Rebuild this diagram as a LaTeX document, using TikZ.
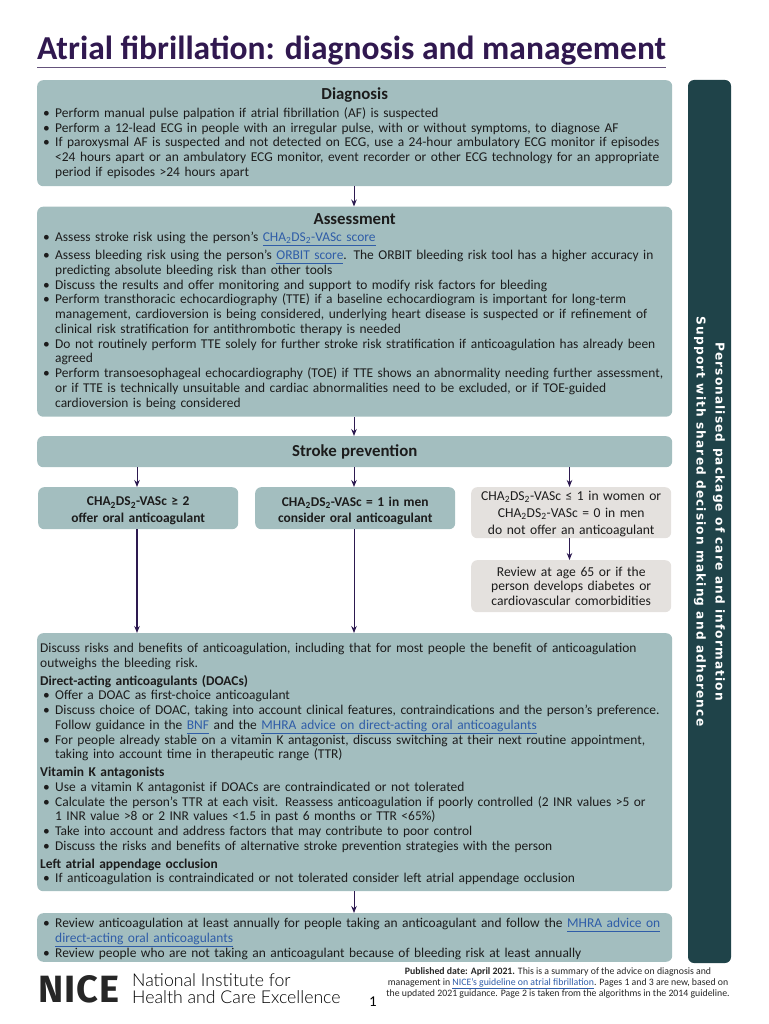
\documentclass[tikz,border=0pt]{standalone}
\usepackage{fontspec}
\setmainfont{Carlito}
\newfontfamily\sidefont[LetterSpace=9]{DejaVu Sans}
\newfontfamily\logofont[LetterSpace=3]{Fira Sans}
\newfontfamily\logolight{Lato Light}
\usetikzlibrary{arrows.meta,positioning}
\normallineskiplimit=-5pt

\definecolor{boxteal}{HTML}{A3BEBF}
\definecolor{boxgrey}{HTML}{E4E1DE}
\definecolor{sidedark}{HTML}{1F4349}
\definecolor{titlepurple}{HTML}{30184F}
\definecolor{arrowpurple}{HTML}{2D1A50}
\definecolor{linkblue}{HTML}{2F5DA8}
\definecolor{inktext}{HTML}{1C1C1C}

\newcommand{\lnk}[1]{\textcolor{linkblue}{\underline{\vphantom{g}#1}}}
\newcommand{\chads}{CHA\textsubscript{2}DS\textsubscript{2}-VASc}
\newcommand{\bitem}[1]{\par\noindent\hangindent=15pt\hangafter=1\makebox[15pt][l]{\hspace{3pt}\textbullet}#1\par}
\newcommand{\boxhead}[1]{{\centering\bfseries\fontsize{16.8}{16.8}\selectfont #1\par}}
\newcommand{\subhead}[1]{\par\vspace{3pt}\noindent\textbf{#1}\par}

\begin{document}
\begin{tikzpicture}[x=1pt, y=-1pt, inner sep=0pt,
                    bodytext/.style={font=\fontsize{13.45}{14.75}\selectfont, text=inktext},
                    tealbox/.style={bodytext, fill=boxteal, rounded corners=6pt, anchor=north west,
                                    text width=629pt, inner xsep=3pt, align=left},
                    smallbox/.style={bodytext, rounded corners=6pt, anchor=north west, minimum width=200pt,
                                     text width=196pt, inner xsep=2pt, align=center},
                    arrow/.style={draw=arrowpurple, line width=1pt, -{Stealth[length=7pt, width=5.5pt]}}]
    \useasboundingbox (0,0) rectangle (768,1024);

    \node[anchor=base west, font=\fontsize{33.5}{33.5}\selectfont\bfseries, text=titlepurple] (title) at (37,60)
        {Atrial fibrillation: diagnosis and management};
    \draw[draw=titlepurple!75, line width=1pt] (37,67.5) -- (title.east |- 0,67.5);

    \node[tealbox, minimum height=106pt] (diag) at (37,80) {%
        \boxhead{Diagnosis}
        \vspace{3pt}
        \bitem{Perform manual pulse palpation if atrial fibrillation (AF) is suspected}
        \bitem{Perform a 12-lead ECG in people with an irregular pulse, with or without symptoms, to diagnose AF}
        \bitem{If paroxysmal AF is suspected and not detected on ECG, use a 24-hour ambulatory ECG monitor if episodes\newline
               <24 hours apart or an ambulatory ECG monitor, event recorder or other ECG technology for an appropriate\newline
               period if episodes >24 hours apart}};

    \node[tealbox, minimum height=210pt] (assess) at (37,206.5) {%
        \boxhead{Assessment}
        \vspace{2pt}
        \bitem{Assess stroke risk using the person's \lnk{\chads{} score}}
        \vspace{3.5pt}
        \bitem{Assess bleeding risk using the person's \lnk{ORBIT score}. The ORBIT bleeding risk tool has a higher accuracy in\newline
               predicting absolute bleeding risk than other tools}
        \bitem{Discuss the results and offer monitoring and support to modify risk factors for bleeding}
        \bitem{Perform transthoracic echocardiography (TTE) if a baseline echocardiogram is important for long-term\newline
               management, cardioversion is being considered, underlying heart disease is suspected or if refinement of\newline
               clinical risk stratification for antithrombotic therapy is needed}
        \bitem{Do not routinely perform TTE solely for further stroke risk stratification if anticoagulation has already been\newline
               agreed}
        \bitem{Perform transoesophageal echocardiography (TOE) if TTE shows an abnormality needing further assessment,\newline
               or if TTE is technically unsuitable and cardiac abnormalities need to be excluded, or if TOE-guided\newline
               cardioversion is being considered}};

    \node[tealbox, minimum height=31pt] (stroke) at (37,436) {\boxhead{Stroke prevention}};

    \node[smallbox, fill=boxteal, minimum height=42pt, font=\fontsize{13.45}{16.2}\selectfont\bfseries] (offer) at (38,487)
        {\chads{} ≥ 2\\offer oral anticoagulant\par\vspace{-5pt}};
    \node[smallbox, fill=boxteal, minimum height=42pt, font=\fontsize{13.45}{16.2}\selectfont\bfseries] (consider) at (255,487)
        {\chads{} = 1 in men\\consider oral anticoagulant\par\vspace{-5pt}};
    \node[smallbox, fill=boxgrey, minimum height=51pt, font=\fontsize{13.6}{16.8}\selectfont] (nooffer) at (471,487)
        {\chads{} ≤ 1 in women or\\\chads{} = 0 in men\\do not offer an anticoagulant\par\vspace{-2pt}};
    \node[smallbox, fill=boxgrey, minimum height=52pt, font=\fontsize{13.6}{14.8}\selectfont] (review) at (471,560)
        {Review at age 65 or if the\\person develops diabetes or\\cardiovascular comorbidities};

    \node[tealbox, minimum height=258pt] (doac) at (37,633) {%
        Discuss risks and benefits of anticoagulation, including that for most people the benefit of anticoagulation\newline
        outweighs the bleeding risk.
        \subhead{Direct-acting anticoagulants (DOACs)}
        \bitem{Offer a DOAC as first-choice anticoagulant}
        \bitem{Discuss choice of DOAC, taking into account clinical features, contraindications and the person's preference.\newline
               Follow guidance in the \lnk{BNF} and the \lnk{MHRA advice on direct-acting oral anticoagulants}}
        \bitem{For people already stable on a vitamin K antagonist, discuss switching at their next routine appointment,\newline
               taking into account time in therapeutic range (TTR)}
        \subhead{Vitamin K antagonists}
        \bitem{Use a vitamin K antagonist if DOACs are contraindicated or not tolerated}
        \bitem{Calculate the person's TTR at each visit. Reassess anticoagulation if poorly controlled (2 INR values >5 or\newline
               1 INR value >8 or 2 INR values <1.5 in past 6 months or TTR <65\%)}
        \bitem{Take into account and address factors that may contribute to poor control}
        \bitem{Discuss the risks and benefits of alternative stroke prevention strategies with the person}
        \subhead{Left atrial appendage occlusion}
        \bitem{If anticoagulation is contraindicated or not tolerated consider left atrial appendage occlusion}
        \vspace{-4pt}};

    \node[tealbox, minimum height=48pt] (followup) at (37,913) {%
        \bitem{Review anticoagulation at least annually for people taking an anticoagulant and follow the \lnk{MHRA advice on}\newline
               \lnk{direct-acting oral anticoagulants}}
        \bitem{Review people who are not taking an anticoagulant because of bleeding risk at least annually}
        \vspace{2pt}};

    \node[fill=sidedark, rounded corners=6pt, rotate=-90, minimum width=883pt, minimum height=43pt,
          align=center, text=white, font=\sidefont\fontsize{12.2}{19}\selectfont\bfseries] (side) at (709.5,521.5)
        {Personalised package of care and information\\Support with shared decision making and adherence};

    \draw[arrow] (diag.south -| 354,0) -- (assess.north -| 354,0);
    \draw[arrow] (assess.south -| 354,0) -- (stroke.north -| 354,0);
    \draw[arrow] (stroke.south -| 137,0) -- (offer.north -| 137,0);
    \draw[arrow] (stroke.south -| 354,0) -- (consider.north -| 354,0);
    \draw[arrow] (stroke.south -| 569.5,0) -- (nooffer.north -| 569.5,0);
    \draw[arrow, line width=1.5pt] (offer.south -| 137,0) -- (doac.north -| 137,0);
    \draw[arrow] (consider.south -| 354,0) -- (doac.north -| 354,0);
    \draw[arrow] (nooffer.south -| 569.5,0) -- (review.north -| 569.5,0);
    \draw[arrow] (doac.south -| 354,0) -- (followup.north -| 354,0);

    \node[anchor=base west, font=\logofont\fontsize{38}{38}\selectfont\bfseries, text=black!85] (nice) at (38,1002) {NICE};
    \node[anchor=west, align=left, font=\logolight\fontsize{17.7}{16.6}\selectfont, text=black] (institute) at (132,988.5)
        {National Institute for\\Health and Care Excellence};
    \node[anchor=base, font=\fontsize{15}{15}\selectfont] (pageno) at (373,1006) {1};
    \node[anchor=north, align=center, font=\fontsize{9.8}{11.2}\selectfont, text=black!85] (published) at (558,967)
        {\textbf{Published date: April 2021.} This is a summary of the advice on diagnosis and\\
         management in \lnk{NICE's guideline on atrial fibrillation}. Pages 1 and 3 are new, based on\\
         the updated 2021 guidance. Page 2 is taken from the algorithms in the 2014 guideline.};
\end{tikzpicture}
\end{document}
